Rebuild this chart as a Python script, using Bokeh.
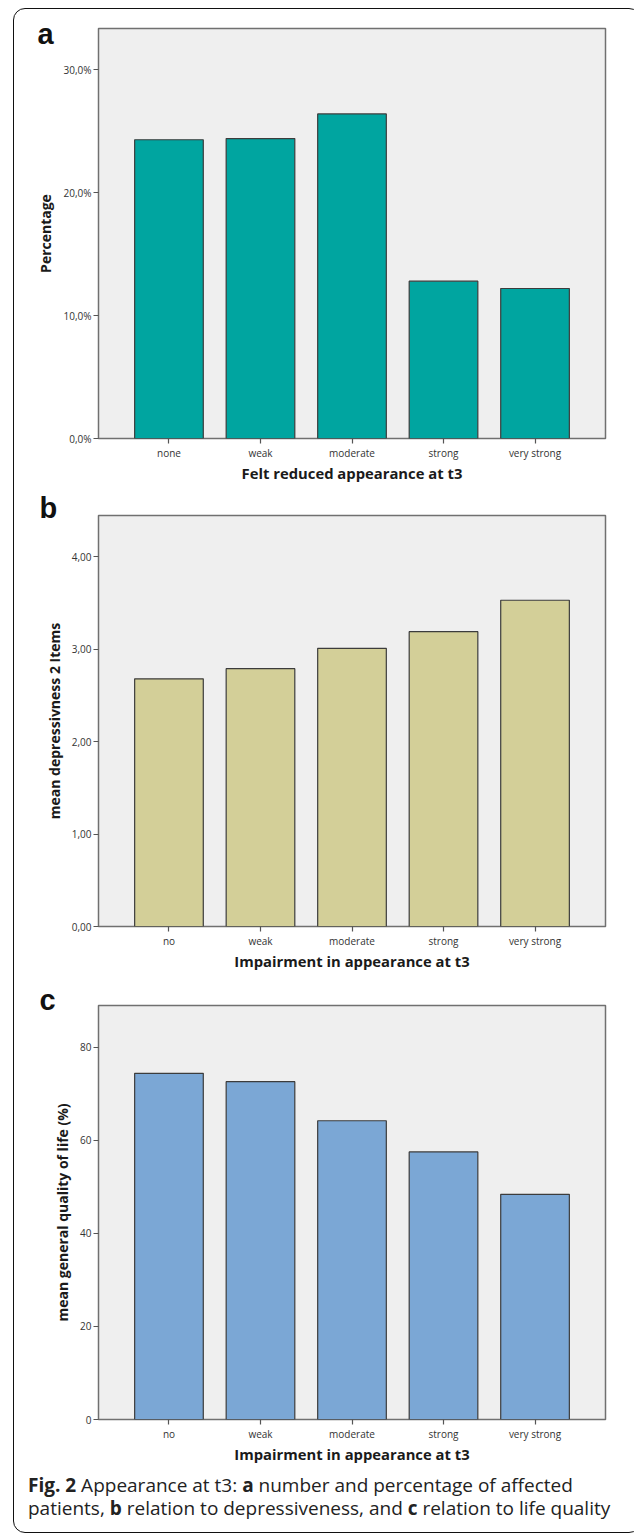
from bokeh.plotting import figure
from bokeh.models import FactorRange, Range1d, FixedTicker, Div, Column
from bokeh.embed import file_html
from bokeh.resources import INLINE

# ---------------- data ----------------
categories_a = ["none", "weak", "moderate", "strong", "very strong"]
percent_a = [24.3, 24.4, 26.4, 12.8, 12.2]
yticks_a = [0, 10, 20, 30]
ytick_labels_a = ["0,0%", "10,0%", "20,0%", "30,0%"]

categories_b = ["no", "weak", "moderate", "strong", "very strong"]
depress_b = [2.68, 2.79, 3.01, 3.19, 3.53]
yticks_b = [0, 1, 2, 3, 4]
ytick_labels_b = ["0,00", "1,00", "2,00", "3,00", "4,00"]

categories_c = ["no", "weak", "moderate", "strong", "very strong"]
qol_c = [74.4, 72.6, 64.2, 57.5, 48.4]
yticks_c = [0, 20, 40, 60, 80]
ytick_labels_c = ["0", "20", "40", "60", "80"]

FONT = "Open Sans"
W = 616


def panel(cats, vals, ymax, ticks, tick_labels, color, xlabel, ylabel,
          height, mb_left, mb_right, mb_top, mb_bottom):
    p = figure(width=W, height=height, output_backend="svg", toolbar_location=None,
               x_range=FactorRange(*cats, range_padding=0.27, range_padding_units="absolute"),
               y_range=Range1d(0, ymax),
               min_border_left=mb_left, min_border_right=mb_right,
               min_border_top=mb_top, min_border_bottom=mb_bottom)
    p.background_fill_color = "#efefef"
    p.border_fill_color = "white"
    p.border_fill_alpha = 0
    p.outline_line_color = "#707070"
    p.outline_line_width = 1.5
    p.grid.grid_line_color = None

    p.vbar(x=cats, top=vals, width=0.75, fill_color=color,
           line_color="#3c3c3c", line_width=1.2)

    for ax in (p.xaxis, p.yaxis):
        ax.axis_line_color = None
        ax.major_tick_out = 5
        ax.major_tick_in = 0
        ax.major_tick_line_color = "#555555"
        ax.major_tick_line_width = 1.2
        ax.minor_tick_line_color = None
        ax.major_label_text_font = FONT
        ax.major_label_text_font_size = "10px"
        ax.major_label_text_color = "#333333"
        ax.axis_label_text_font = FONT
        ax.axis_label_text_font_style = "bold"
        ax.axis_label_text_color = "#1a1a1a"

    p.yaxis.ticker = FixedTicker(ticks=ticks)
    p.yaxis.major_label_overrides = {t: l for t, l in zip(ticks, tick_labels)}
    p.yaxis.major_label_standoff = 2
    p.yaxis.axis_label = ylabel
    p.yaxis.axis_label_text_font_size = "14px"
    p.yaxis.axis_label_standoff = 5

    p.xaxis.major_label_standoff = 2
    p.xaxis.axis_label = xlabel
    p.xaxis.axis_label_text_font_size = "14.8px"
    p.xaxis.axis_label_standoff = 0
    return p


def letter(text, left, top):
    h = 45
    return Div(
        text=(f'<div style="position:relative; left:{left}px; top:{top}px; '
              f"font-family:'Liberation Sans', Arial, sans-serif; font-weight:bold; "
              f'font-size:29px; line-height:29px; color:#111111;">{text}</div>'),
        width=70, height=h, margin=(0, 0, -h, 0),
        styles={"position": "relative", "z-index": "5"})


pa = panel(categories_a, percent_a, 33.35, yticks_a, ytick_labels_a, "#00a5a0",
           "Felt reduced appearance at t3", "Percentage",
           480, 84, 24, 19, 51)
pb = panel(categories_b, depress_b, 4.447, yticks_b, ytick_labels_b, "#d3cf98",
           "Impairment in appearance at t3", "mean depressivness 2 Items",
           495, 78, 25, 26, 58)
pc = panel(categories_c, qol_c, 88.97, yticks_c, ytick_labels_c, "#7ba7d5",
           "Impairment in appearance at t3", "mean general quality of life (%)",
           485, 67, 22, 21, 50)

caption = Div(
    text=("<b>Fig. 2</b> Appearance at t3: <b>a</b> number and percentage of affected<br>"
          "patients, <b>b</b> relation to depressiveness, and <b>c</b> relation to life quality"),
    width=W, height=53,
    styles={"font-family": "'Open Sans', sans-serif", "font-size": "19px",
            "line-height": "23px", "color": "#222222", "padding-left": "9px",
            "padding-top": "0px", "white-space": "nowrap"})

layout = Column(children=[letter("a", 23.5, 11), pa,
                          letter("b", 25.5, 5), pb,
                          letter("c", 25.5, 2), pc,
                          caption],
                margin=(8, 0, 0, 13),
                styles={"border": "1.5px solid #111111", "border-radius": "12px",
                        "overflow": "hidden", "background-color": "white"})

open("out.html", "w").write(file_html(layout, INLINE))
